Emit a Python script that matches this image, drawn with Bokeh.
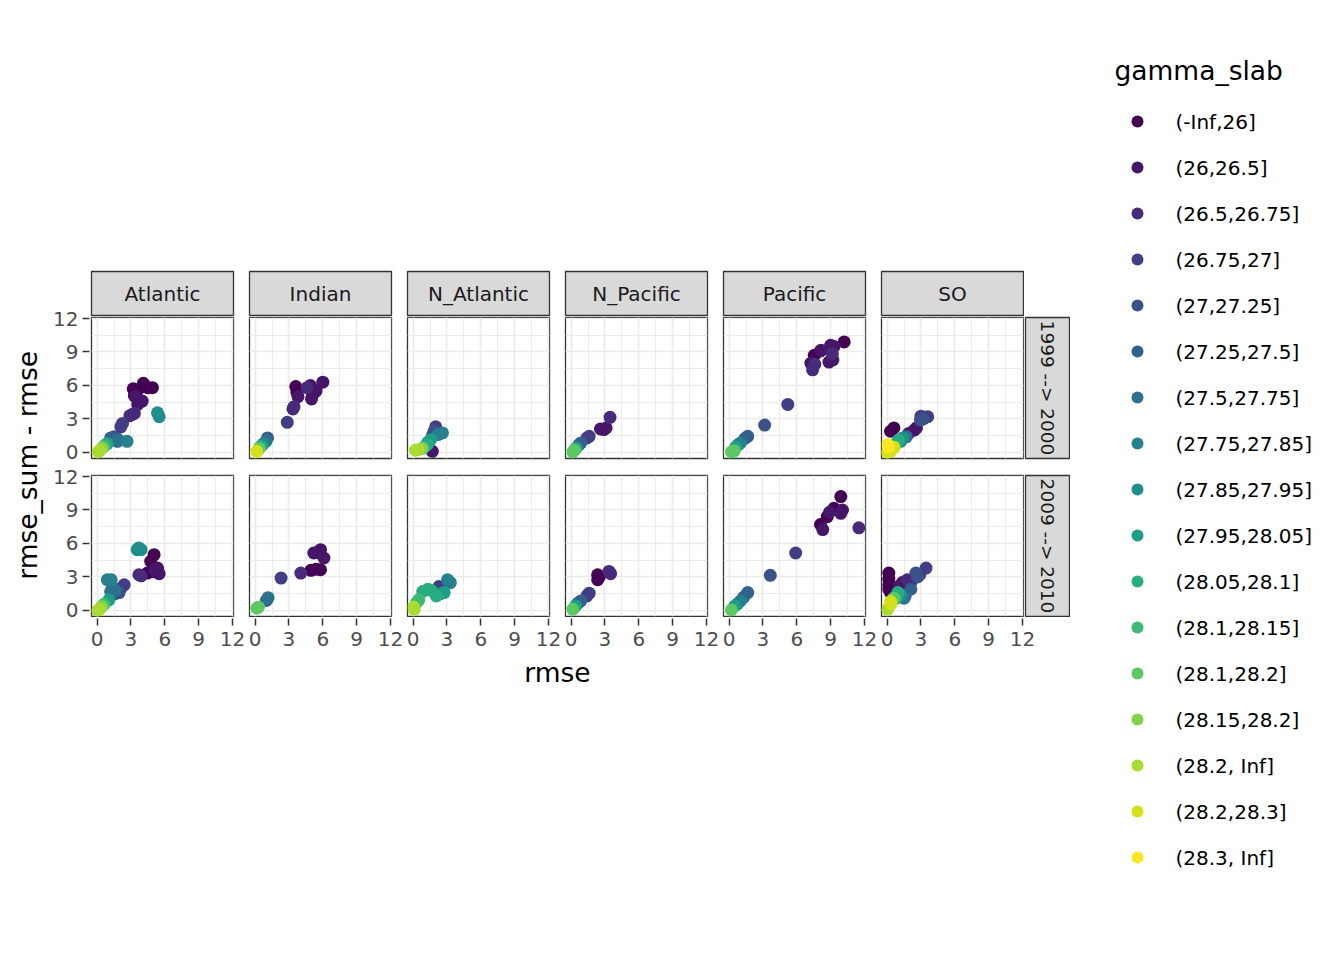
import math
from bokeh.plotting import figure
from bokeh.models import Range1d, FixedTicker, LinearAxis, ColumnDataSource, Spacer
from bokeh.layouts import row, column
from bokeh.palettes import viridis
from bokeh.core.properties import value
from bokeh.embed import file_html
from bokeh.resources import INLINE

FONT = "DejaVu Sans"

# ---------------- data ----------------
basins = ["Atlantic", "Indian", "N_Atlantic", "N_Pacific", "Pacific", "SO"]
periods = ["1999 --> 2000", "2009 --> 2010"]
gamma_levels = ["(-Inf,26]", "(26,26.5]", "(26.5,26.75]", "(26.75,27]", "(27,27.25]",
                "(27.25,27.5]", "(27.5,27.75]", "(27.75,27.85]", "(27.85,27.95]",
                "(27.95,28.05]", "(28.05,28.1]", "(28.1,28.15]", "(28.1,28.2]",
                "(28.15,28.2]", "(28.2, Inf]", "(28.2,28.3]", "(28.3, Inf]"]
axis_ticks = [0, 3, 6, 9, 12]
axis_minor_ticks = [1.5, 4.5, 7.5, 10.5]
x_limits = (-0.5, 12.09)
y_limits = (-0.54, 12.09)
x_title = "rmse"
y_title = "rmse_sum - rmse"
legend_title = "gamma_slab"

# Atlantic, 1999 --> 2000
atl_1_gamma = [0, 0, 0, 0, 0, 0, 0, 1, 1, 1, 1, 2, 2, 2, 3, 3, 4, 4, 5, 5, 6, 7, 8, 8, 9, 10, 11, 13, 14, 14]
atl_1_rmse = [3.2, 3.3, 4.1, 4.5, 4.9, 3.6, 4.3, 3.7, 3.6, 4.0, 3.4, 3.1, 3.3, 2.9, 2.25, 2.1, 1.5, 1.7,
              1.8, 1.2, 1.9, 2.65, 5.35, 5.5, 0.9, 0.75, 0.6, 0.45, 0.25, 0.1]
atl_1_diff = [5.7, 5.1, 6.2, 5.8, 5.8, 5.6, 5.9, 4.7, 4.3, 4.6, 5.0, 3.4, 3.5, 3.3, 2.6, 2.3, 1.4, 1.3,
              1.0, 1.3, 1.1, 1.0, 3.55, 3.2, 0.8, 0.7, 0.55, 0.4, 0.2, 0.05]
# Indian, 1999 --> 2000
ind_1_gamma = [0, 0, 1, 1, 1, 1, 1, 1, 2, 2, 2, 3, 5, 6, 8, 10, 12, 15]
ind_1_rmse = [3.6, 3.7, 4.9, 6.0, 5.1, 3.8, 5.4, 5.0, 3.45, 3.35, 4.6, 2.85, 1.1, 0.95, 0.7, 0.5, 0.35, 0.15]
ind_1_diff = [5.9, 5.4, 6.0, 6.3, 5.2, 5.0, 5.5, 4.8, 4.1, 3.9, 5.8, 2.7, 1.3, 1.0, 0.75, 0.55, 0.35, 0.1]
# N_Atlantic, 1999 --> 2000
nat_1_gamma = [1, 3, 4, 4, 7, 7, 9, 9, 10, 10, 13, 14, 14]
nat_1_rmse = [1.7, 2.0, 1.85, 1.7, 2.6, 2.2, 1.55, 1.3, 1.25, 1.0, 0.8, 0.45, 0.2]
nat_1_diff = [0.1, 2.3, 1.9, 1.5, 1.75, 1.6, 1.15, 0.9, 0.7, 0.5, 0.35, 0.25, 0.2]
# N_Pacific, 1999 --> 2000
npa_1_gamma = [1, 1, 1, 2, 3, 3, 5, 5, 9, 12, 12]
npa_1_rmse = [2.9, 2.6, 3.1, 3.45, 1.6, 1.4, 0.85, 0.7, 0.45, 0.3, 0.15]
npa_1_diff = [2.05, 2.1, 2.2, 3.15, 1.45, 1.3, 0.85, 0.7, 0.4, 0.2, 0.05]
# Pacific, 1999 --> 2000
pac_1_gamma = [0, 0, 0, 1, 1, 1, 1, 1, 1, 2, 2, 2, 3, 4, 5, 5, 7, 7, 9, 12, 12]
pac_1_rmse = [10.2, 7.55, 8.1, 9.0, 8.15, 8.85, 7.25, 9.3, 9.2, 9.15, 7.4, 7.6, 5.2, 3.15, 1.65, 1.4,
              1.0, 0.8, 0.6, 0.45, 0.2]
pac_1_diff = [9.9, 8.7, 9.1, 9.6, 9.15, 8.1, 8.0, 9.5, 8.3, 8.85, 7.4, 7.9, 4.3, 2.45, 1.45, 1.25,
              0.85, 0.7, 0.5, 0.15, 0.05]
# SO, 1999 --> 2000
so_1_gamma = [0, 0, 1, 1, 1, 3, 3, 4, 4, 6, 8, 8, 10, 10, 12, 15, 15, 15, 16, 16]
so_1_rmse = [0.3, 0.6, 2.4, 2.6, 1.9, 3.6, 3.0, 2.95, 3.2, 1.7, 1.4, 1.2, 1.0, 0.8, 0.6, 0.6, 0.3, 0.0, 0.05, 0.1]
so_1_diff = [1.9, 2.2, 2.0, 2.2, 1.7, 3.2, 3.25, 2.9, 3.0, 1.4, 1.3, 1.0, 1.1, 0.8, 0.5, 0.45, 0.1, 0.0, 0.7, 0.5]

# Atlantic, 2009 --> 2010
atl_2_gamma = [0, 0, 0, 0, 1, 1, 1, 1, 2, 2, 3, 3, 4, 4, 6, 6, 6, 7, 7, 8, 8, 8, 9, 11, 13, 14, 14]
atl_2_rmse = [5.05, 4.75, 4.45, 4.9, 5.35, 5.35, 5.1, 5.5, 3.7, 3.9, 2.4, 2.1, 1.95, 1.6, 1.35, 1.2, 1.6,
              0.9, 1.25, 3.55, 3.9, 3.7, 1.05, 0.6, 0.4, 0.2, 0.05]
atl_2_diff = [5.0, 4.4, 3.35, 3.5, 3.8, 3.4, 3.6, 3.3, 3.2, 3.1, 2.3, 2.0, 1.6, 1.5, 2.0, 1.7, 1.8,
              2.75, 2.75, 5.45, 5.45, 5.6, 0.95, 0.55, 0.35, 0.1, 0.0]
# Indian, 2009 --> 2010
ind_2_gamma = [0, 0, 0, 1, 1, 1, 1, 2, 3, 5, 6, 12, 12]
ind_2_rmse = [5.8, 4.95, 5.4, 5.8, 5.2, 6.1, 5.5, 4.05, 2.3, 1.0, 1.15, 0.3, 0.15]
ind_2_diff = [3.65, 3.6, 3.7, 5.45, 5.15, 4.7, 5.2, 3.35, 2.9, 0.9, 1.15, 0.3, 0.2]
# N_Atlantic, 2009 --> 2010
nat_2_gamma = [3, 3, 7, 7, 9, 9, 10, 10, 10, 10, 11, 11, 14, 14]
nat_2_rmse = [2.3, 2.6, 3.05, 3.3, 2.75, 2.45, 2.05, 1.3, 0.85, 1.6, 0.5, 0.3, 0.05, 0.1]
nat_2_diff = [2.15, 2.0, 2.75, 2.5, 1.6, 1.5, 1.3, 1.9, 1.7, 1.8, 0.95, 0.7, 0.3, 0.1]
# N_Pacific, 2009 --> 2010
npa_2_gamma = [0, 0, 0, 2, 2, 3, 3, 5, 5, 9, 12]
npa_2_rmse = [2.35, 2.35, 2.5, 3.35, 3.5, 1.6, 1.4, 0.85, 0.6, 0.4, 0.15]
npa_2_diff = [3.2, 2.75, 3.0, 3.5, 3.3, 1.55, 1.3, 0.85, 0.65, 0.4, 0.1]
# Pacific, 2009 --> 2010
pac_2_gamma = [0, 0, 0, 0, 1, 1, 1, 1, 2, 3, 4, 5, 5, 7, 7, 9, 12]
pac_2_rmse = [9.9, 9.3, 8.7, 8.1, 10.05, 9.9, 8.3, 8.9, 11.5, 5.9, 3.65, 1.65, 1.3, 1.0, 0.75, 0.5, 0.2]
pac_2_diff = [10.2, 9.15, 8.4, 7.7, 9.0, 8.7, 7.25, 8.8, 7.4, 5.15, 3.15, 1.6, 1.2, 0.85, 0.6, 0.4, 0.05]
# SO, 2009 --> 2010
so_2_gamma = [0, 0, 0, 0, 0, 1, 1, 2, 2, 3, 3, 4, 4, 5, 5, 6, 8, 10, 10, 12, 12, 14, 15, 15]
so_2_rmse = [0.15, 0.15, 0.15, 0.15, 0.3, 1.35, 1.1, 1.8, 2.1, 3.45, 2.9, 2.55, 2.7, 2.1, 1.6, 1.5, 1.2,
             0.95, 0.8, 0.6, 0.4, 0.05, 0.3, 0.35]
so_2_diff = [3.35, 2.8, 2.3, 1.9, 1.6, 2.5, 2.2, 2.75, 2.5, 3.8, 3.2, 3.35, 3.0, 1.9, 1.3, 1.1, 1.4,
             1.6, 1.1, 1.1, 0.8, 0.1, 0.8, 0.6]

panel_data = {
    ("Atlantic", 0): (atl_1_gamma, atl_1_rmse, atl_1_diff),
    ("Indian", 0): (ind_1_gamma, ind_1_rmse, ind_1_diff),
    ("N_Atlantic", 0): (nat_1_gamma, nat_1_rmse, nat_1_diff),
    ("N_Pacific", 0): (npa_1_gamma, npa_1_rmse, npa_1_diff),
    ("Pacific", 0): (pac_1_gamma, pac_1_rmse, pac_1_diff),
    ("SO", 0): (so_1_gamma, so_1_rmse, so_1_diff),
    ("Atlantic", 1): (atl_2_gamma, atl_2_rmse, atl_2_diff),
    ("Indian", 1): (ind_2_gamma, ind_2_rmse, ind_2_diff),
    ("N_Atlantic", 1): (nat_2_gamma, nat_2_rmse, nat_2_diff),
    ("N_Pacific", 1): (npa_2_gamma, npa_2_rmse, npa_2_diff),
    ("Pacific", 1): (pac_2_gamma, pac_2_rmse, pac_2_diff),
    ("SO", 1): (so_2_gamma, so_2_rmse, so_2_diff),
}

# ---------------- styling / layout constants ----------------
palette = viridis(len(gamma_levels))
FW, FH = 142, 141
STRIP_FILL = "#D9D9D9"
BORDER = "#333333"
GRID = "#EBEBEB"
SMALL = "20px"
SIDE = "18.5px"
BIG = "26.5px"
NCOL = len(basins)
# vertical borders of the two panel rows: (top, bottom)
ROW_BORDERS = [(1, 6), (11, 1)]

xr = Range1d(*x_limits)
yr = Range1d(*y_limits)
ticker = FixedTicker(ticks=axis_ticks, minor_ticks=axis_minor_ticks)


def base_fig(**kw):
    opts = dict(toolbar_location=None, output_backend="svg", title=None,
                x_axis_location=None, y_axis_location=None,
                border_fill_color=None, outline_line_color=None,
                min_border_left=0, min_border_right=0, min_border_top=0, min_border_bottom=0)
    opts.update(kw)
    p = figure(**opts)
    return p


def style_axis(ax, standoff):
    ax.axis_line_color = None
    ax.major_tick_line_color = BORDER
    ax.major_tick_line_width = 1.5
    ax.major_tick_in = 0
    ax.major_tick_out = 7
    ax.minor_tick_line_color = None
    ax.major_label_text_font = FONT
    ax.major_label_text_font_size = SMALL
    ax.major_label_text_color = "#4D4D4D"
    ax.major_label_standoff = standoff


def col_borders(ci):
    return 1, (1 if ci == NCOL - 1 else 15)


def make_panel(ci, ri):
    g, xs, ys = panel_data[(basins[ci], ri)]
    bl, br = col_borders(ci)
    bt, bb = ROW_BORDERS[ri]
    p = base_fig(frame_width=FW, frame_height=FH, x_range=xr, y_range=yr,
                 min_border_left=bl, min_border_right=br,
                 min_border_top=bt, min_border_bottom=bb,
                 background_fill_color="white",
                 outline_line_color=BORDER, outline_line_width=1.3)
    for gr in (p.xgrid, p.ygrid):
        gr.ticker = ticker
        gr.grid_line_color = GRID
        gr.grid_line_width = 1.7
        gr.minor_grid_line_color = GRID
        gr.minor_grid_line_width = 1.0
    src = ColumnDataSource(dict(x=xs, y=ys, c=[palette[i] for i in g]))
    p.scatter("x", "y", source=src, size=13, fill_color="c", line_color="c", line_width=0)
    return p


def make_top_strip(ci):
    bl, br = col_borders(ci)
    s = base_fig(frame_width=FW, frame_height=45, x_range=Range1d(0, 1), y_range=Range1d(0, 1),
                 min_border_left=bl, min_border_right=br, min_border_top=1, min_border_bottom=0,
                 background_fill_color=STRIP_FILL, outline_line_color=BORDER, outline_line_width=1.3)
    s.grid.visible = False
    s.text(x=[0.5], y=[0.5], text=[basins[ci]], text_align="center", text_baseline="middle",
           text_font=value(FONT), text_font_size=SMALL, text_color="#1A1A1A")
    return s


def make_side_strip(ri):
    bt, bb = ROW_BORDERS[ri]
    s = base_fig(frame_width=44, frame_height=FH, x_range=Range1d(0, 1), y_range=Range1d(0, 1),
                 min_border_left=1, min_border_right=1, min_border_top=bt, min_border_bottom=bb,
                 background_fill_color=STRIP_FILL, outline_line_color=BORDER, outline_line_width=1.3)
    s.grid.visible = False
    s.text(x=[0.5], y=[0.5], text=[periods[ri]], angle=-math.pi / 2,
           text_align="center", text_baseline="middle",
           text_font=value(FONT), text_font_size=SIDE, text_color="#1A1A1A")
    return s


def make_y_axis(ri):
    bt, bb = ROW_BORDERS[ri]
    a = base_fig(frame_width=1, frame_height=FH, x_range=Range1d(0, 1), y_range=yr,
                 min_border_left=39, min_border_top=(47 if ri == 0 else bt),
                 min_border_bottom=(bb if ri == 0 else 14), background_fill_color=None)
    a.grid.visible = False
    ax = LinearAxis(ticker=ticker)
    style_axis(ax, 4)
    a.add_layout(ax, "left")
    return a


def make_x_axis(ci):
    bl, br = col_borders(ci)
    a = base_fig(frame_width=FW, frame_height=1, x_range=xr, y_range=Range1d(0, 1),
                 min_border_left=bl, min_border_right=(12 if ci == NCOL - 1 else br),
                 min_border_bottom=40, background_fill_color=None)
    a.grid.visible = False
    ax = LinearAxis(ticker=ticker)
    style_axis(ax, 6)
    a.add_layout(ax, "below")
    return a


strips_row = row(*[make_top_strip(c) for c in range(NCOL)])
row1 = row(*[make_panel(c, 0) for c in range(NCOL)], make_side_strip(0))
row2 = row(*[make_panel(c, 1) for c in range(NCOL)], make_side_strip(1))
xaxis_row = row(*[make_x_axis(c) for c in range(NCOL)])

# x-axis title
xlab = base_fig(frame_width=932, frame_height=40, x_range=Range1d(0, 1), y_range=Range1d(0, 1),
                min_border_left=1, background_fill_color=None)
xlab.grid.visible = False
xlab.text(x=[0.5], y=[0.65], text=[x_title], text_align="center", text_baseline="middle",
          text_font=value(FONT), text_font_size=BIG, text_color="black")

panels_col = column(Spacer(width=980, height=270), strips_row, row1, row2, xaxis_row, xlab)
yaxis_col = column(Spacer(width=40, height=270), make_y_axis(0), make_y_axis(1))

# y-axis title
ylab = base_fig(frame_width=50, frame_height=300, x_range=Range1d(0, 1), y_range=Range1d(0, 1),
                background_fill_color=None)
ylab.grid.visible = False
ylab.text(x=[0.53], y=[0.507], text=[y_title], angle=math.pi / 2, text_align="center",
          text_baseline="middle", text_font=value(FONT), text_font_size=BIG, text_color="black")
ylab_col = column(Spacer(width=50, height=317), ylab)

# legend: one row per gamma_slab level (row index is the legend's y coordinate)
LW, LH = 260, 900
ROW_PX, FIRST_ROW_PX = 46, 121
leg = base_fig(frame_width=LW, frame_height=LH, x_range=Range1d(0, LW),
               y_range=Range1d((LH - FIRST_ROW_PX) / ROW_PX, -FIRST_ROW_PX / ROW_PX),
               background_fill_color=None)
leg.grid.visible = False
lev_idx = list(range(len(gamma_levels)))
leg_src = ColumnDataSource(dict(y=lev_idx, x_dot=[67] * len(lev_idx), x_txt=[105] * len(lev_idx),
                                label=gamma_levels, c=list(palette)))
leg.scatter("x_dot", "y", source=leg_src, size=12, fill_color="c", line_color="c", line_width=0)
leg.text("x_txt", "y", text="label", source=leg_src, text_align="left", text_baseline="middle",
         text_font=value(FONT), text_font_size=SMALL, text_color="black")
leg.text(x=[44], y=[(70 - FIRST_ROW_PX) / ROW_PX], text=[legend_title], text_align="left",
         text_baseline="middle", text_font=value(FONT), text_font_size=BIG, text_color="black")

root = row(ylab_col, yaxis_col, panels_col, leg)

with open("out.html", "w") as f:
    f.write(file_html(root, INLINE))
